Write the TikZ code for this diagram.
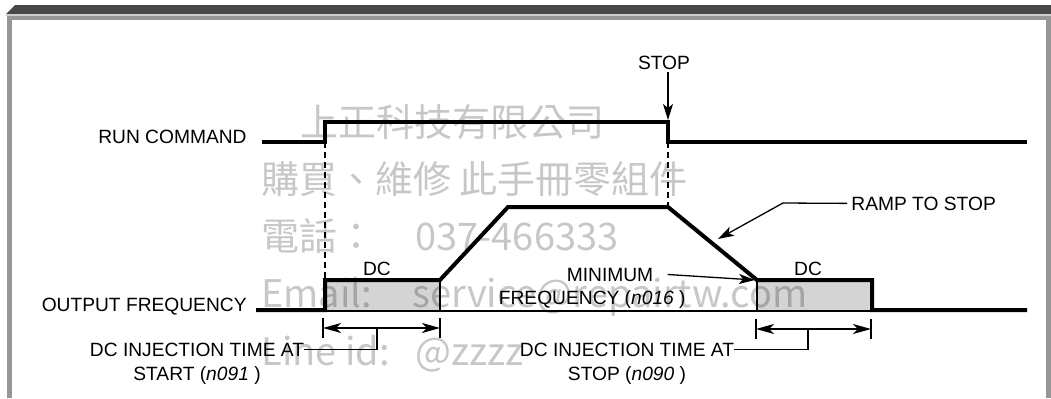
\documentclass[tikz,border=0pt]{standalone}
\usepackage{fontspec}
\setmainfont{Liberation Sans}
\newfontfamily\cjkfont{Noto Sans CJK TC}
\usetikzlibrary{arrows.meta}
\definecolor{framedark}{RGB}{72,72,72}
\definecolor{framelight}{RGB}{205,205,205}
\definecolor{framegray}{RGB}{150,150,150}
\definecolor{boxfill}{RGB}{212,212,212}
\begin{document}
\begin{tikzpicture}[x=0.5pt,y=-0.5pt,
  txt/.style={inner sep=0pt, font=\fontsize{9.6}{12}\selectfont},
  wave/.style={line width=2pt},
  thinln/.style={line width=0.65pt},
  dashln/.style={line width=1pt, dash pattern=on 3pt off 2pt},
  arr/.style={thinln, -{Stealth[length=8pt,width=5pt,inset=2pt]}},
  dimarr/.style={thinln, {Stealth[length=9pt,width=5pt,inset=2.5pt]}-{Stealth[length=9pt,width=5pt,inset=2.5pt]}},
  wm/.style={inner sep=0pt, anchor=base west, font=\cjkfont\fontsize{19}{19}\selectfont, text=black, text opacity=0.22},
]
\useasboundingbox (0,0) rectangle (1051,398);
% frame
\fill[framedark] (6,14) -- (15,5) -- (1051,5) -- (1051,14) -- cycle;
\fill[framelight] (6,14) rectangle (1051,16);
\fill[framegray] (7,16) rectangle (1051,20);
\fill[framegray] (7,16) rectangle (12,398);
\fill[framegray] (1046,16) rectangle (1051,398);

% coordinates of the waveforms
\coordinate (rc0) at (262,142);
\coordinate (rc1) at (325,142);
\coordinate (rc2) at (325,122);
\coordinate (rc3) at (668,122);
\coordinate (rc4) at (668,142);
\coordinate (rc5) at (1027,142);

\coordinate (of0) at (256,310);
\coordinate (of1) at (325,310);
\coordinate (of2) at (325,280);
\coordinate (of3) at (440,280);
\coordinate (of4) at (508,207);
\coordinate (of5) at (668,207);
\coordinate (of6) at (757,280);
\coordinate (of7) at (872,280);
\coordinate (of8) at (872,310);
\coordinate (of9) at (1027,310);

\coordinate (base0) at (258,311);
\coordinate (base1) at (1027,311);

% DC boxes
\fill[boxfill] (of2) rectangle (440,311);
\fill[boxfill] (of6) rectangle (872,311);
\draw[thinln] (base0) -- (base1);
\draw[thinln] (of3) -- (440,311);
\draw[thinln] (of6) -- (757,311);

% dashed guides
\draw[dashln] (rc1) -- (of2);
\draw[dashln] (rc4) -- (of5);

% waveforms
\draw[wave] (rc0) -- (rc1) -- (rc2) -- (rc3) -- (rc4) -- (rc5);
\draw[wave] (of0) -- (of1) -- (of2) -- (of3) -- (of4) -- (of5) -- (of6) -- (of7) -- (of8) -- (of9);

% labels
\node[txt, anchor=base east] (runlbl) at (247,143) {RUN COMMAND};
\node[txt, anchor=base east] (outlbl) at (247,311) {OUTPUT FREQUENCY};
\node[txt, anchor=base] (stoplbl) at (664,69) {STOP};
\node[txt, anchor=base west] (ramplbl) at (851,210) {RAMP TO STOP};
\node[txt, anchor=base] (minlbl) at (610,281) {MINIMUM};
\node[txt, anchor=base east] (minlbl2) at (686,304) {FREQUENCY (\textit{n016} )};
\node[txt, anchor=base] (dcA) at (377,275) {DC};
\node[txt, anchor=base] (dcB) at (808,275) {DC};
\node[txt, anchor=base] (injA1) at (197,356) {DC INJECTION TIME AT};
\node[txt, anchor=base] (injA2) at (197,380) {START (\textit{n091} )};
\node[txt, anchor=base] (injB1) at (627,356) {DC INJECTION TIME AT};
\node[txt, anchor=base] (injB2) at (627,380) {STOP (\textit{n090} )};

% STOP arrow
\coordinate (stoptail) at (668,72);
\coordinate (stoptip) at (668,120);
\draw[arr] (stoptail) -- (stoptip);

% ramp to stop arrow
\coordinate (rampknee) at (783,203);
\coordinate (ramptip) at (718,239);
\draw[arr] ([xshift=-2pt]ramplbl.west) -- (rampknee) -- (ramptip);

% minimum frequency arrow
\coordinate (mintip) at (755,280);
\draw[arr] ([xshift=7pt]minlbl.east) -- (mintip);

% DC injection time at start
\coordinate (dA1) at (323,328);
\coordinate (dA2) at (440,328);
\coordinate (dAm) at (377,328);
\draw[thinln] ([yshift=5pt]dA1) -- ([yshift=-5pt]dA1);
\draw[thinln] ([yshift=5pt]dA2) -- ([yshift=-5pt]dA2);
\draw[dimarr] (dA1) -- (dA2);
\draw[thinln] (dAm) |- (injA1.east);

% DC injection time at stop
\coordinate (dB1) at (756,329);
\coordinate (dB2) at (871,329);
\coordinate (dBm) at (808,329);
\draw[thinln] ([yshift=5pt]dB1) -- ([yshift=-5pt]dB1);
\draw[thinln] ([yshift=5pt]dB2) -- ([yshift=-5pt]dB2);
\draw[dimarr] (dB1) -- (dB2);
\draw[thinln] (dBm) |- (injB1.east);

% watermark
\node[wm] (wm1) at (300,136) {上正科技有限公司};
\node[wm] (wm2) at (261,193) {購買、維修 此手冊零組件};
\node[wm] (wm3a) at (261,250) {電話：};
\node[wm] (wm3b) at (415,250) {037-466333};
\node[wm] (wm4a) at (261,307) {Email:};
\node[wm] (wm4b) at (412,307) {service@repairtw.com};
\node[wm] (wm5a) at (261,365) {Line id:};
\node[wm] (wm5b) at (415,365) {@zzzz};
\end{tikzpicture}
\end{document}
